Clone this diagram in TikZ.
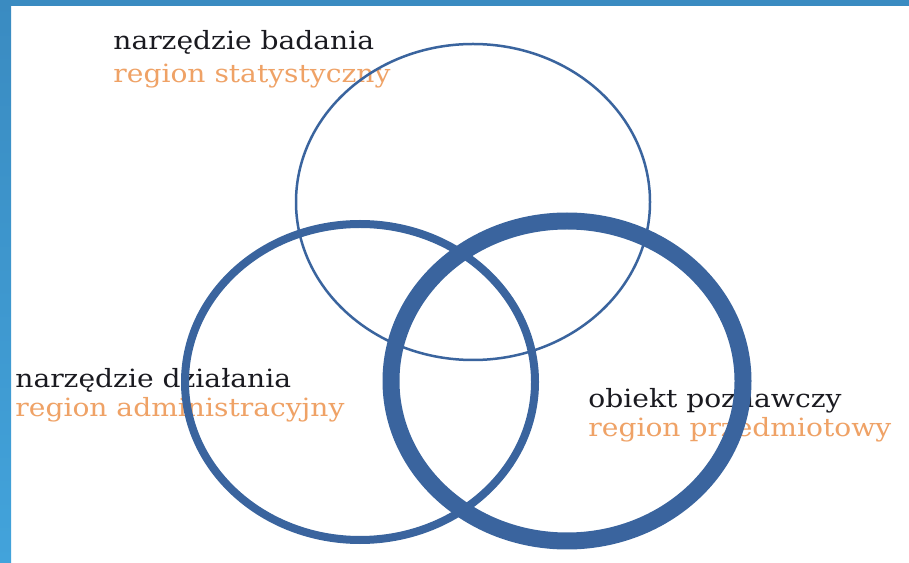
\documentclass[tikz,border=0pt]{standalone}
\usepackage{fontspec}
\setmainfont{DejaVu Serif}
\definecolor{ringblue}{HTML}{3A649E}
\definecolor{frameblue}{HTML}{3A8BC1}
\definecolor{framelight}{HTML}{42A3DB}
\definecolor{inkblack}{HTML}{1A1A20}
\definecolor{regorange}{HTML}{EFA266}

\begin{document}
\begin{tikzpicture}[x=0.02cm, y=-0.02cm,
  tagtext/.style={anchor=base west, align=left, inner sep=0pt, text=inkblack,
    font=\fontsize{14.3}{17}\selectfont, xscale=1.12},
  ring/.style={draw=ringblue}]

% Background and frame
\fill[white] (0,0) rectangle (909,563);
\useasboundingbox (0,0) rectangle (909,563);
\shade[top color=frameblue, bottom color=framelight] (0,0) rectangle (11,563);
\fill[frameblue] (0,0) rectangle (909,6);

% Labels (under the rings), placed at the baseline of their last line
\node[tagtext] (stat) at (113,83)
  {narzędzie badania\\[2pt]\textcolor{regorange}{region statystyczny}};
\node[tagtext] (admin) at (15,417)
  {narzędzie działania\\\textcolor{regorange}{region administracyjny}};
\node[tagtext] (subj) at (588,437)
  {obiekt poznawczy\\\textcolor{regorange}{region przedmiotowy}};

% Rings
\draw[ring, line width=0.05cm] (473,202) ellipse [x radius=177, y radius=158];
\draw[ring, line width=0.16cm] (360,382) ellipse [x radius=175, y radius=158];
\draw[ring, line width=0.34cm] (567,381) ellipse [x radius=176, y radius=160];

\end{tikzpicture}
\end{document}
